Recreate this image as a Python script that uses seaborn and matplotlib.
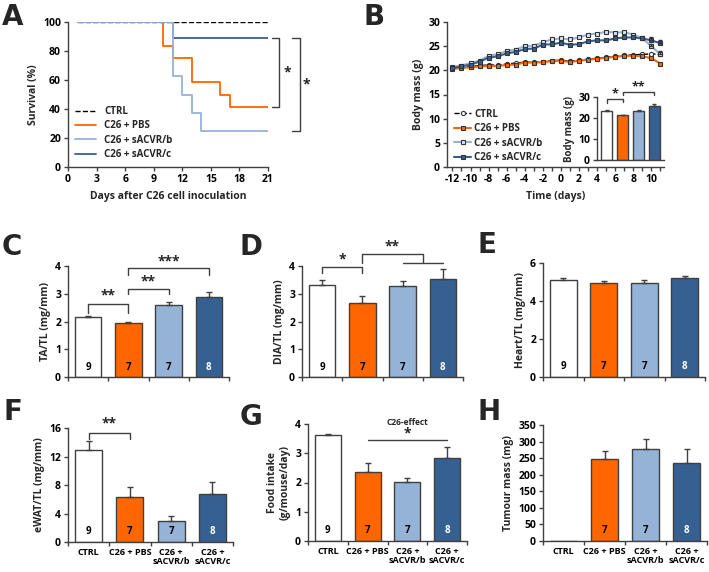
import matplotlib
matplotlib.use("Agg")
import matplotlib.pyplot as plt
import matplotlib.transforms as mtransforms
from matplotlib.ticker import MultipleLocator
import seaborn as sns
import numpy as np

# ---------------- data ----------------
groups = ["CTRL", "C26 + PBS", "C26 + sACVR/b", "C26 + sACVR/c"]
group_ticks = ["CTRL", "C26 + PBS", "C26 +\nsACVR/b", "C26 +\nsACVR/c"]
n_mice = ["9", "7", "7", "8"]
bar_colors = ["#FFFFFF", "#FF6600", "#95B3D7", "#376092"]

# A: survival (%)
ctrl_days = [1, 21]
ctrl_surv = [100, 100]
pbs_days = [1, 10, 11, 13, 16, 17, 21]
pbs_surv = [100, 83.3, 75, 58.3, 50, 41.7, 41.7]
acvrb_days = [1, 11, 12, 13, 14, 21]
acvrb_surv = [100, 62.5, 50, 37.5, 25, 25]
acvrc_days = [1, 11, 21]
acvrc_surv = [100, 88.9, 88.9]

# B: body mass over time (g)
time_days = list(range(-12, 12))
ctrl_mass = [20.4, 20.6, 20.8, 21.0, 21.1, 21.1, 21.3, 21.5, 21.7, 21.7, 21.8, 22.0,
             22.1, 21.9, 22.1, 22.3, 22.5, 22.7, 22.9, 23.1, 23.2, 23.3, 23.4, 23.3]
pbs_mass = [20.3, 20.5, 20.6, 20.8, 20.9, 20.9, 21.1, 21.2, 21.6, 21.6, 21.7, 21.9,
            22.0, 21.7, 22.0, 22.2, 22.4, 22.6, 22.8, 23.0, 23.0, 22.9, 22.5, 21.4]
acvrb_mass = [20.7, 21.0, 21.5, 22.0, 23.0, 23.3, 24.0, 24.3, 25.0, 25.1, 25.8, 26.4,
              26.6, 26.4, 26.8, 27.4, 27.6, 28.0, 27.8, 27.9, 27.4, 26.6, 25.0, 23.3]
acvrc_mass = [20.5, 20.8, 21.2, 21.8, 22.6, 22.9, 23.5, 23.8, 24.4, 24.5, 25.3, 25.4,
              25.7, 25.3, 25.4, 26.0, 26.2, 26.2, 26.6, 26.8, 26.8, 26.6, 26.2, 25.6]
err_days = [10, 11]
acvrb_err = [0.5, 0.7]
acvrc_err = [0.8, 0.7]

# B inset: final body mass (g)
final_mass = [23.3, 21.3, 23.1, 25.5]
final_mass_sem = [0.4, 0.3, 0.7, 1.0]

# C-H: mean and SEM
ta_mean = [2.18, 1.96, 2.60, 2.90]
ta_sem = [0.03, 0.04, 0.11, 0.17]
dia_mean = [3.33, 2.68, 3.27, 3.52]
dia_sem = [0.17, 0.23, 0.19, 0.36]
heart_mean = [5.10, 4.93, 4.93, 5.19]
heart_sem = [0.09, 0.10, 0.17, 0.11]
ewat_mean = [12.9, 6.3, 2.95, 6.8]
ewat_sem = [1.25, 1.4, 0.7, 1.6]
food_mean = [3.62, 2.35, 2.02, 2.85]
food_sem = [0.05, 0.32, 0.15, 0.37]
tumour_mean = [0, 248, 277, 235]
tumour_sem = [0, 24, 31, 43]

# ---------------- style ----------------
sns.set_theme(style="ticks")
plt.rcParams["font.family"] = ["Open Sans", "DejaVu Sans"]
plt.rcParams["font.weight"] = "bold"
plt.rcParams["axes.labelweight"] = "bold"
plt.rcParams["axes.unicode_minus"] = False
plt.rcParams["axes.edgecolor"] = "#404040"
plt.rcParams["axes.linewidth"] = 1.0
plt.rcParams["xtick.color"] = "#404040"
plt.rcParams["ytick.color"] = "#404040"
plt.rcParams["xtick.labelcolor"] = "black"
plt.rcParams["ytick.labelcolor"] = "black"

W, H = 709, 572
fig = plt.figure(figsize=(W / 100, H / 100), dpi=100)
fig.patch.set_facecolor("white")

TICK = 7.5
EDGE = "#404040"


def add_ax(x0, y0, x1, y1):
    ax = fig.add_axes([x0 / W, 1 - y1 / H, (x1 - x0) / W, (y1 - y0) / H])
    sns.despine(ax=ax)
    ax.tick_params(direction="out", length=3, width=1, labelsize=TICK, pad=2)
    return ax


def bold_ticks(ax):
    for lab in ax.get_xticklabels() + ax.get_yticklabels():
        lab.set_fontweight("bold")


def panel_letter(x, y, s):
    fig.text(x / W, 1 - y / H, s, fontsize=20, fontweight="bold",
             family="DejaVu Sans", va="top", ha="left")


def bracket(ax, x1, x2, y, h1, h2, text, ty, fs=10):
    ax.plot([x1, x1, x2, x2], [y - h1, y, y, y - h2], color=EDGE, lw=1,
            clip_on=False)
    if text:
        ax.text((x1 + x2) / 2, ty, text, ha="center", va="center",
                fontsize=fs, fontweight="bold", clip_on=False)


def bar_panel(ax, means, sems, ymax, ystep, ylabel, labels=None, nlab=n_mice):
    sns.barplot(x=groups, y=means, hue=groups, palette=bar_colors,
                saturation=1, width=0.66, edgecolor=EDGE, linewidth=1,
                legend=False, ax=ax)
    pos = np.arange(len(groups))
    m = np.array(means, dtype=float)
    s = np.array(sems, dtype=float)
    keep = s > 0
    ax.errorbar(pos[keep], m[keep], yerr=[np.zeros(keep.sum()), s[keep]],
                fmt="none", ecolor=EDGE, elinewidth=1, capsize=2, capthick=1)
    ax.set_xlim(-0.5, 3.5)
    ax.set_ylim(0, ymax)
    ax.yaxis.set_major_locator(MultipleLocator(ystep))
    ax.set_xticks([-0.5, 0.5, 1.5, 2.5, 3.5])
    ax.set_xticklabels([])
    if labels is not None:
        ax.set_xticks(pos, minor=True)
        ax.set_xticklabels(labels, minor=True, fontsize=6.5, fontweight="bold",
                           linespacing=1.1)
        ax.tick_params(axis="x", which="minor", length=0, pad=4)
    ax.set_ylabel(ylabel, fontsize=TICK, labelpad=3)
    ax.set_xlabel("")
    trans = mtransforms.blended_transform_factory(ax.transData, ax.transAxes)
    for i, t in enumerate(nlab):
        ax.text(i, 0.09, t, transform=trans, ha="center", va="center",
                fontsize=7, fontweight="bold",
                color="white" if i == 3 else "black")
    bold_ticks(ax)


# ---------------- A: survival ----------------
axA = add_ax(68, 22, 268, 167)
sns.lineplot(x=ctrl_days, y=ctrl_surv, drawstyle="steps-post", color="black",
             lw=1, linestyle="--", label="CTRL", ax=axA, zorder=1)
sns.lineplot(x=pbs_days, y=pbs_surv, drawstyle="steps-post", color="#FF6600",
             lw=1.3, label="C26 + PBS", ax=axA, zorder=2)
sns.lineplot(x=acvrb_days, y=acvrb_surv, drawstyle="steps-post", color="#95B3D7",
             lw=1.3, label="C26 + sACVR/b", ax=axA, zorder=4)
sns.lineplot(x=acvrc_days, y=acvrc_surv, drawstyle="steps-post", color="#376092",
             lw=1.3, label="C26 + sACVR/c", ax=axA, zorder=3)
axA.set_xlim(0, 21)
axA.set_ylim(0, 100)
axA.set_xticks(range(0, 22, 3))
axA.set_yticks(range(0, 101, 20))
axA.set_xlabel("Days after C26 cell inoculation", fontsize=TICK, labelpad=4)
axA.set_ylabel("Survival (%)", fontsize=TICK, labelpad=3)
axA.legend(loc="lower left", bbox_to_anchor=(0.0, 0.0), frameon=False,
           prop={"size": 7, "weight": "bold"}, handlelength=2.2,
           labelspacing=0.35, borderaxespad=0.3)
axA.plot([21.4, 22.2, 22.2, 21.4], [88.9, 88.9, 41.7, 41.7], color=EDGE, lw=1,
         clip_on=False)
axA.plot([23.5, 24.4, 24.4, 23.5], [88.9, 88.9, 25, 25], color=EDGE, lw=1,
         clip_on=False)
axA.text(23.0, 65, "*", fontsize=10, fontweight="bold", ha="center", va="center")
axA.text(25.0, 57, "*", fontsize=10, fontweight="bold", ha="center", va="center")
bold_ticks(axA)
panel_letter(2, 3, "A")

# ---------------- B: body mass ----------------
axB = add_ax(447, 22, 664, 167)
mk = dict(markersize=3, markeredgecolor="#333333", markeredgewidth=0.8)
sns.lineplot(x=time_days, y=ctrl_mass, color="black", lw=1, linestyle="--",
             marker="o", markerfacecolor="white", label="CTRL", ax=axB,
             zorder=1, **mk)
sns.lineplot(x=time_days, y=pbs_mass, color="#FF6600", lw=1.5,
             marker="s", markerfacecolor="#FF6600", label="C26 + PBS", ax=axB,
             zorder=2, **mk)
sns.lineplot(x=time_days, y=acvrb_mass, color="#95B3D7", lw=1.5,
             marker="s", markerfacecolor="#DCE6F2", label="C26 + sACVR/b",
             ax=axB, zorder=3, **mk)
sns.lineplot(x=time_days, y=acvrc_mass, color="#376092", lw=1.5,
             marker="s", markerfacecolor="#376092", label="C26 + sACVR/c",
             ax=axB, zorder=4, **mk)
b_end = [acvrb_mass[time_days.index(d)] for d in err_days]
c_end = [acvrc_mass[time_days.index(d)] for d in err_days]
axB.errorbar(err_days, b_end, yerr=[[0, 0], acvrb_err], fmt="none",
             ecolor="#333333", elinewidth=0.8, capsize=1.5, zorder=5)
axB.errorbar(err_days, c_end, yerr=[[0, 0], acvrc_err], fmt="none",
             ecolor="#333333", elinewidth=0.8, capsize=1.5, zorder=5)
axB.set_xlim(-12.6, 11.4)
axB.set_ylim(0, 30)
axB.set_xticks(range(-12, 11, 2))
axB.xaxis.set_minor_locator(MultipleLocator(1))
axB.tick_params(axis="x", which="minor", length=3, width=1, direction="out")
axB.set_yticks(range(0, 31, 5))
axB.set_xlabel("Time (days)", fontsize=TICK, labelpad=4)
axB.set_ylabel("Body mass (g)", fontsize=TICK, labelpad=3)
axB.legend(loc="lower left", bbox_to_anchor=(0.0, -0.02), frameon=False,
           prop={"size": 7, "weight": "bold"}, handlelength=1.8,
           labelspacing=0.35, borderaxespad=0.3, handletextpad=0.3)
bold_ticks(axB)
panel_letter(364, 3, "B")

# inset
axI = add_ax(597, 97, 664, 160)
sns.barplot(x=groups, y=final_mass, hue=groups, palette=bar_colors,
            saturation=1, width=0.7, edgecolor=EDGE, linewidth=1,
            legend=False, ax=axI)
axI.errorbar(np.arange(4), final_mass, yerr=[np.zeros(4), final_mass_sem],
             fmt="none", ecolor=EDGE, elinewidth=1, capsize=1.5)
axI.set_xlim(-0.62, 3.6)
axI.set_ylim(0, 30)
axI.set_yticks([0, 10, 20, 30])
axI.set_xticks([])
axI.set_xlabel("")
axI.set_ylabel("Body mass (g)", fontsize=7, labelpad=2)
axI.patch.set_alpha(0)
bold_ticks(axI)
bracket(axI, 0, 1, 29.0, 1.7, 1.2, "*", 31.5, fs=9)
bracket(axI, 1, 3, 32.4, 1.4, 1.4, "**", 35.0, fs=9)

# ---------------- C ----------------
axC = add_ax(68, 266, 229, 377)
bar_panel(axC, ta_mean, ta_sem, 4, 1, "TA/TL (mg/mm)")
bracket(axC, 0, 1, 2.63, 0.33, 0.33, "**", 2.93)
bracket(axC, 1, 2, 3.17, 0.18, 0.18, "**", 3.45)
bracket(axC, 1, 3, 3.93, 0.25, 0.25, "***", 4.17)
panel_letter(2, 233, "C")

# ---------------- D ----------------
axD = add_ax(302, 266, 463, 377)
bar_panel(axD, dia_mean, dia_sem, 4, 1, "DIA/TL (mg/mm)")
bracket(axD, 0, 1, 3.96, 0.22, 0.22, "*", 4.25)
bracket(axD, 1, 2.5, 4.43, 0.33, 0.33, "**", 4.72)
axD.plot([2, 3], [4.1, 4.1], color=EDGE, lw=1, clip_on=False)
panel_letter(240, 233, "D")

# ---------------- E ----------------
axE = add_ax(543, 263, 705, 377)
bar_panel(axE, heart_mean, heart_sem, 6, 2, "Heart/TL (mg/mm)")
panel_letter(478, 231, "E")

# ---------------- F ----------------
axF = add_ax(68, 428, 233, 542)
bar_panel(axF, ewat_mean, ewat_sem, 16, 4, "eWAT/TL (mg/mm)", labels=group_ticks)
bracket(axF, 0, 1, 15.3, 0.8, 0.8, "**", 16.6)
panel_letter(4, 398, "F")

# ---------------- G ----------------
axG = add_ax(308, 424, 467, 541)
bar_panel(axG, food_mean, food_sem, 4, 1, "Food intake\n(g/mouse/day)",
          labels=group_ticks)
axG.plot([1, 3], [3.45, 3.45], color=EDGE, lw=1, clip_on=False)
axG.text(2, 3.68, "*", ha="center", va="center", fontsize=10, fontweight="bold")
axG.text(2, 4.05, "C26-effect", ha="center", va="center", fontsize=6,
         fontweight="bold")
panel_letter(240, 403, "G")

# ---------------- H ----------------
axH = add_ax(543, 425, 707, 541)
bar_panel(axH, tumour_mean, tumour_sem, 350, 50, "Tumour mass (mg)",
          labels=group_ticks, nlab=["", "7", "7", "8"])
panel_letter(478, 398, "H")

fig.savefig("out.png", dpi=100, facecolor="white")
